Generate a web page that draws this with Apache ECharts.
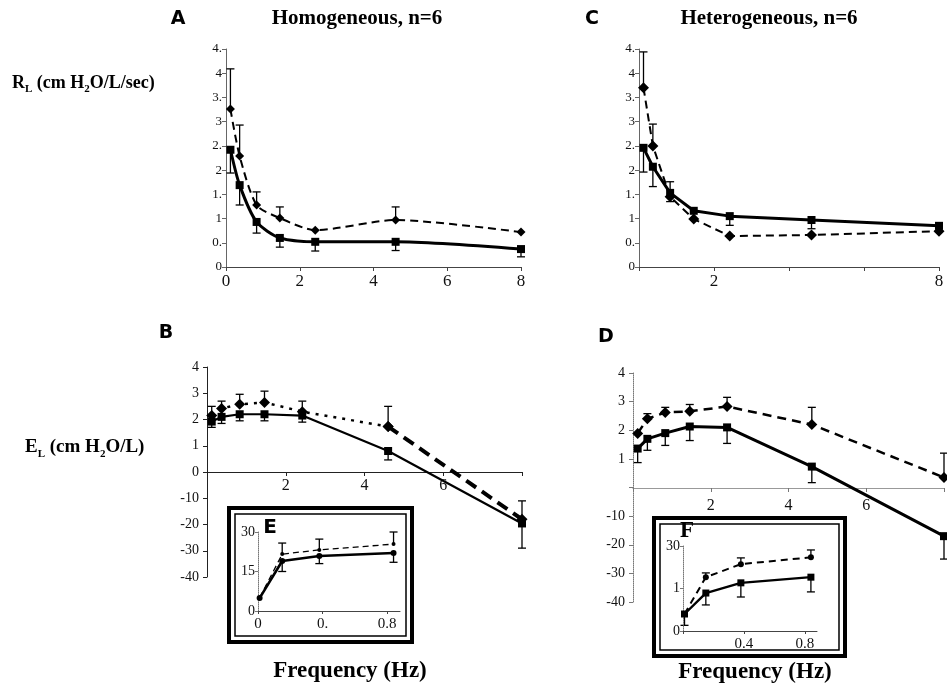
<!DOCTYPE html>
<html>
<head>
<meta charset="utf-8">
<script src="https://cdn.jsdelivr.net/npm/echarts@6/dist/echarts.min.js"></script>
<style>
html, body { margin: 0; padding: 0; background: #fff; }
#chart { width: 947px; height: 683px; }
</style>
</head>
<body>
<div id="chart"></div>
<script>
// frequencies (Hz)
var freqMain = [0.12, 0.37, 0.83, 1.46, 2.42, 4.6, 8];
var freqInset = [0.01, 0.15, 0.38, 0.84];

// A: homogeneous RL
var homSolidR = [2.42, 1.69, 0.93, 0.6, 0.52, 0.52, 0.37];
var homSolidRLow = [1.94, 1.28, 0.7, 0.41, 0.33, 0.34, 0.21];
var homDashR = [3.26, 2.29, 1.28, 1.01, 0.76, 0.97, 0.72];
var homDashRHigh = [4.09, 2.93, 1.55, 1.24, null, 1.24, null];

// C: heterogeneous RL
var hetSolidR = [2.46, 2.07, 1.53, 1.16, 1.05, 0.97, 0.85];
var hetSolidRLow = [1.96, 1.66, 1.35, null, 0.86, 0.79, 0.8];
var hetDashR = [3.7, 2.5, 1.45, 0.99, 0.64, 0.66, 0.74];
var hetDashRHigh = [4.44, 2.95, 1.76, null, null, null, null];

// B: homogeneous EL
var homDashE = [21.5, 24.2, 25.8, 26.5, 23, 17.3, -18];
var homDashEHigh = [25, 27, 29.6, 30.8, 27, 25, -11];
var homSolidE = [19.2, 21, 22, 22, 21.5, 8, -19.6];
var homSolidELow = [17, 18.5, 19.5, 19.5, 19, 4.6, -29];

// D: heterogeneous EL
var hetDashE = [18.9, 24, 26.2, 26.6, 28.3, 22, 3.5];
var hetDashEHigh = [null, 25.8, 28, 29, 31.5, 28, 12];
var hetSolidE = [13.6, 17, 19, 21.3, 21, 7.3, -17];
var hetSolidELow = [8.7, 13, 14.7, 16.4, 15.4, 1.7, -25];

// E / F insets (low frequency)
var homDashC = [5, 21.6, 23.2, 25.4];
var homDashCHigh = [null, 25.8, 27.3, 30];
var homSolidC = [4.9, 19, 20.9, 22];
var homSolidCLow = [null, 15, 18, 18.5];
var hetDashC = [6, 19, 23.6, 26];
var hetDashCHigh = [null, 20.5, 25.8, 28.6];
var hetSolidC = [6, 13.4, 17, 19];
var hetSolidCLow = [2, 9.2, 12, 13.8];

var SERIF = '"Liberation Serif", "DejaVu Serif", serif';
var chart = echarts.init(document.getElementById('chart'));

function pts(xs, ys) {
	return xs.map(function (x, i) { return [x, ys[i]]; });
}
function bars(xs, ys, ends) {
	var out = [];
	xs.forEach(function (x, i) {
		if (ends[i] != null) out.push([x, ys[i], ends[i]]);
	});
	return out;
}
function renderBar(params, api) {
	var p0 = api.coord([api.value(0), api.value(1)]);
	var p1 = api.coord([api.value(0), api.value(2)]);
	var st = { stroke: '#000', lineWidth: 1.3 };
	return {
		type: 'group',
		children: [
			{ type: 'line', shape: { x1: p0[0], y1: p0[1], x2: p1[0], y2: p1[1] }, style: st },
			{ type: 'line', shape: { x1: p1[0] - 4, y1: p1[1], x2: p1[0] + 4, y2: p1[1] }, style: st }
		]
	};
}
function errSeries(idx, data, z) {
	return { type: 'custom', xAxisIndex: idx, yAxisIndex: idx, renderItem: renderBar,
		encode: { x: 0, y: [1, 2] }, data: data, z: z || 3, silent: true };
}
function solidLine(idx, data, opts) {
	return Object.assign({ type: 'line', xAxisIndex: idx, yAxisIndex: idx, data: data,
		symbol: 'rect', symbolSize: 8, itemStyle: { color: '#000' },
		lineStyle: { color: '#000', width: 3 }, silent: true }, opts || {});
}
function dashLine(idx, data, opts) {
	return Object.assign({ type: 'line', xAxisIndex: idx, yAxisIndex: idx, data: data,
		symbol: 'diamond', symbolSize: 11, itemStyle: { color: '#000' },
		lineStyle: { color: '#000', width: 2, type: [8, 5] }, silent: true }, opts || {});
}

function halfFmt(v) {
	return Number.isInteger(v) ? String(v) : Math.floor(v) + '.';
}
function elFmt(showZero) {
	return function (v) {
		if (v === 0) return showZero ? '0' : '';
		return v > 0 ? String(v / 10) : String(v);
	};
}
var axLine = { lineStyle: { color: '#444', width: 1 } };
var letterFont = '900 19px "DejaVu Sans"';

var option = {
	animation: false,
	backgroundColor: '#fff',
	grid: [
		{ left: 226, top: 49, width: 295, height: 218 },	// A
		{ left: 639, top: 49, width: 300, height: 218 },	// C
		{ left: 207, top: 367, width: 315, height: 210 },	// B
		{ left: 633, top: 373, width: 314, height: 229 },	// D
		{ left: 258, top: 532, width: 142, height: 79 },	// E
		{ left: 683, top: 546, width: 134, height: 85 }		// F
	],
	xAxis: [
		{ gridIndex: 0, type: 'value', min: 0, max: 8, interval: 2, splitLine: { show: false },
			axisLine: axLine, axisTick: { length: 4 },
			axisLabel: { fontFamily: SERIF, fontSize: 17, color: '#111', margin: 6 } },
		{ gridIndex: 1, type: 'value', min: 0, max: 8, interval: 2, splitLine: { show: false },
			axisLine: axLine, axisTick: { length: 4 },
			axisLabel: { fontFamily: SERIF, fontSize: 17, color: '#111', margin: 6,
				formatter: function (v) { return (v === 2 || v === 8) ? String(v) : ''; } } },
		// B and D: axis sits on the zero line, moved up from the grid bottom
		{ gridIndex: 2, type: 'value', min: 0, max: 8, interval: 2, splitLine: { show: false }, offset: -105,
			axisLine: { onZero: false, lineStyle: { color: '#222', width: 1.2 } }, axisTick: { length: 4 },
			axisLabel: { fontFamily: SERIF, fontSize: 16, color: '#111', margin: 6,
				formatter: function (v) { return (v > 0 && v < 8) ? String(v) : ''; } } },
		{ gridIndex: 3, type: 'value', min: 0, max: 8, interval: 2, splitLine: { show: false }, offset: -114,
			axisLine: { onZero: false, lineStyle: { color: '#999', width: 1.2 } }, axisTick: { length: 4, lineStyle: { color: '#777' } },
			axisLabel: { fontFamily: SERIF, fontSize: 16, color: '#111', margin: 10,
				formatter: function (v) { return (v > 0 && v < 8) ? String(v) : ''; } } },
		{ gridIndex: 4, type: 'value', min: 0, max: 0.88, interval: 0.4, z: 20, splitLine: { show: false },
			axisLine: axLine, axisTick: { length: 3 },
			axisLabel: { fontFamily: SERIF, fontSize: 15, color: '#111', margin: 6, showMaxLabel: false,
				formatter: function (v) { return v === 0 ? '0' : (Math.abs(v - 0.4) < 1e-6 ? '0.' : '0.8'); } } },
		{ gridIndex: 5, type: 'value', min: 0, max: 0.88, interval: 0.4, z: 20, splitLine: { show: false },
			axisLine: axLine, axisTick: { length: 3 },
			axisLabel: { fontFamily: SERIF, fontSize: 15, color: '#111', margin: 6, showMaxLabel: false,
				formatter: function (v) { return v === 0 ? '' : (Math.abs(v - 0.4) < 1e-6 ? '0.4' : '0.8'); } } }
	],
	yAxis: [
		{ gridIndex: 0, type: 'value', min: 0, max: 4.5, interval: 0.5, splitLine: { show: false },
			axisLine: { show: true, lineStyle: { color: '#666' } }, axisTick: { show: true, length: 4 },
			axisLabel: { fontFamily: SERIF, fontSize: 13, color: '#111', margin: 4, formatter: halfFmt } },
		{ gridIndex: 1, type: 'value', min: 0, max: 4.5, interval: 0.5, splitLine: { show: false },
			axisLine: { show: true, lineStyle: { color: '#666' } }, axisTick: { show: true, length: 4 },
			axisLabel: { fontFamily: SERIF, fontSize: 13, color: '#111', margin: 4, formatter: halfFmt } },
		{ gridIndex: 2, type: 'value', min: -40, max: 40, interval: 10, splitLine: { show: false },
			axisLine: { show: true, onZero: false, lineStyle: { color: '#222' } }, axisTick: { show: true, length: 4 },
			axisLabel: { fontFamily: SERIF, fontSize: 14, color: '#111', margin: 8, formatter: elFmt(true) } },
		{ gridIndex: 3, type: 'value', min: -40, max: 40, interval: 10, splitLine: { show: false },
			axisLine: { show: true, onZero: false, lineStyle: { color: '#777', type: 'dotted' } }, axisTick: { show: true, length: 4, lineStyle: { color: '#777' } },
			axisLabel: { fontFamily: SERIF, fontSize: 14, color: '#111', margin: 8, formatter: elFmt(false) } },
		{ gridIndex: 4, type: 'value', min: 0, max: 30, interval: 15, z: 20, splitLine: { show: false },
			axisLine: { show: true, lineStyle: { color: '#777', type: 'dotted' } }, axisTick: { show: true, length: 3 },
			axisLabel: { fontFamily: SERIF, fontSize: 14, color: '#111', margin: 3 } },
		{ gridIndex: 5, type: 'value', min: 0, max: 30, interval: 15, z: 20, splitLine: { show: false },
			axisLine: { show: true, lineStyle: { color: '#777', type: 'dotted' } }, axisTick: { show: true, length: 3 },
			axisLabel: { fontFamily: SERIF, fontSize: 14, color: '#111', margin: 3,
				formatter: function (v) { return v === 15 ? '1' : String(v); } } }
	],
	series: [
		// A
		errSeries(0, bars(freqMain, homDashR, homDashRHigh)),
		errSeries(0, bars(freqMain, homSolidR, homSolidRLow)),
		dashLine(0, pts(freqMain, homDashR), { smooth: 0.25, symbolSize: 9 }),
		solidLine(0, pts(freqMain, homSolidR), { smooth: 0.25 }),
		// C
		errSeries(1, bars(freqMain, hetDashR, hetDashRHigh)),
		errSeries(1, bars(freqMain, hetSolidR, hetSolidRLow)),
		dashLine(1, pts(freqMain, hetDashR)),
		solidLine(1, pts(freqMain, hetSolidR)),
		// B
		errSeries(2, bars(freqMain, homDashE, homDashEHigh)),
		errSeries(2, bars(freqMain, homSolidE, homSolidELow)),
		dashLine(2, pts(freqMain.slice(0, 6), homDashE.slice(0, 6)), { lineStyle: { color: '#000', width: 2.5, type: [3, 6] } }),
		dashLine(2, pts(freqMain.slice(5), homDashE.slice(5)), { lineStyle: { color: '#000', width: 4, type: [12, 7] } }),
		solidLine(2, pts(freqMain, homSolidE), { lineStyle: { color: '#000', width: 2.2 } }),
		// D
		errSeries(3, bars(freqMain, hetDashE, hetDashEHigh)),
		errSeries(3, bars(freqMain, hetSolidE, hetSolidELow)),
		dashLine(3, pts(freqMain, hetDashE), { lineStyle: { color: '#000', width: 2.5, type: [9, 6] } }),
		solidLine(3, pts(freqMain, hetSolidE)),
		// E
		errSeries(4, bars(freqInset, homDashC, homDashCHigh), 20),
		errSeries(4, bars(freqInset, homSolidC, homSolidCLow), 20),
		dashLine(4, pts(freqInset, homDashC), { z: 20, symbol: 'circle', symbolSize: 4, lineStyle: { color: '#000', width: 1.3, type: [6, 4] } }),
		solidLine(4, pts(freqInset, homSolidC), { z: 20, symbol: 'circle', symbolSize: 6, lineStyle: { color: '#000', width: 2.6 } }),
		// F
		errSeries(5, bars(freqInset, hetDashC, hetDashCHigh), 20),
		errSeries(5, bars(freqInset, hetSolidC, hetSolidCLow), 20),
		dashLine(5, pts(freqInset, hetDashC), { z: 20, symbol: 'circle', symbolSize: 6, lineStyle: { color: '#000', width: 2, type: [7, 5] } }),
		solidLine(5, pts(freqInset, hetSolidC), { z: 20, symbol: 'rect', symbolSize: 7, lineStyle: { color: '#000', width: 2.4 } })
	],
	graphic: [
		// inset frames
		{ type: 'rect', z: 10, shape: { x: 229, y: 508, width: 183, height: 134 }, style: { fill: '#fff', stroke: '#000', lineWidth: 4 } },
		{ type: 'rect', z: 11, shape: { x: 235, y: 514, width: 171, height: 122 }, style: { fill: '#fff', stroke: '#000', lineWidth: 1.5 } },
		{ type: 'rect', z: 10, shape: { x: 654, y: 518, width: 191, height: 138 }, style: { fill: '#fff', stroke: '#000', lineWidth: 4 } },
		{ type: 'rect', z: 11, shape: { x: 660, y: 524, width: 179, height: 126 }, style: { fill: '#fff', stroke: '#000', lineWidth: 1.5 } },
		// panel letters
		{ type: 'text', z: 30, x: 178, y: 19, style: { text: 'A', font: letterFont, fill: '#000', textAlign: 'center', textVerticalAlign: 'middle' } },
		{ type: 'text', z: 30, x: 592, y: 19, style: { text: 'C', font: letterFont, fill: '#000', textAlign: 'center', textVerticalAlign: 'middle' } },
		{ type: 'text', z: 30, x: 166, y: 333, style: { text: 'B', font: letterFont, fill: '#000', textAlign: 'center', textVerticalAlign: 'middle' } },
		{ type: 'text', z: 30, x: 606, y: 337, style: { text: 'D', font: letterFont, fill: '#000', textAlign: 'center', textVerticalAlign: 'middle' } },
		{ type: 'text', z: 30, x: 270, y: 528, style: { text: 'E', font: '900 20px "DejaVu Sans"', fill: '#000', textAlign: 'center', textVerticalAlign: 'middle' } },
		{ type: 'text', z: 30, x: 687, y: 531, style: { text: 'F', font: 'bold 23px ' + SERIF, fill: '#000', textAlign: 'center', textVerticalAlign: 'middle' } },
		// titles
		{ type: 'text', z: 30, x: 357, y: 19, style: { text: 'Homogeneous, n=6', font: 'bold 21px ' + SERIF, fill: '#000', textAlign: 'center', textVerticalAlign: 'middle' } },
		{ type: 'text', z: 30, x: 769, y: 19, style: { text: 'Heterogeneous, n=6', font: 'bold 21px ' + SERIF, fill: '#000', textAlign: 'center', textVerticalAlign: 'middle' } },
		// axis names
		{ type: 'text', z: 30, x: 12, y: 82, style: {
			text: '{b|R}{s|L}{b| (cm H}{s|2}{b|O/L/sec)}', textVerticalAlign: 'middle',
			rich: { b: { font: 'bold 18px ' + SERIF, fill: '#000', lineHeight: 20, verticalAlign: 'bottom' },
				s: { font: 'bold 11px ' + SERIF, fill: '#000', lineHeight: 20, verticalAlign: 'bottom', padding: [0, 0, -3, 0] } } } },
		{ type: 'text', z: 30, x: 25, y: 447, style: {
			text: '{b|E}{s|L}{b| (cm H}{s|2}{b|O/L)}', textVerticalAlign: 'middle',
			rich: { b: { font: 'bold 19px ' + SERIF, fill: '#000', lineHeight: 20, verticalAlign: 'bottom' },
				s: { font: 'bold 11px ' + SERIF, fill: '#000', lineHeight: 20, verticalAlign: 'bottom', padding: [0, 0, -3, 0] } } } },
		{ type: 'text', z: 30, x: 350, y: 671, style: { text: 'Frequency (Hz)', font: 'bold 23px ' + SERIF, fill: '#000', textAlign: 'center', textVerticalAlign: 'middle' } },
		{ type: 'text', z: 30, x: 755, y: 672, style: { text: 'Frequency (Hz)', font: 'bold 23px ' + SERIF, fill: '#000', textAlign: 'center', textVerticalAlign: 'middle' } }
	]
};
chart.setOption(option);
</script>
</body>
</html>
